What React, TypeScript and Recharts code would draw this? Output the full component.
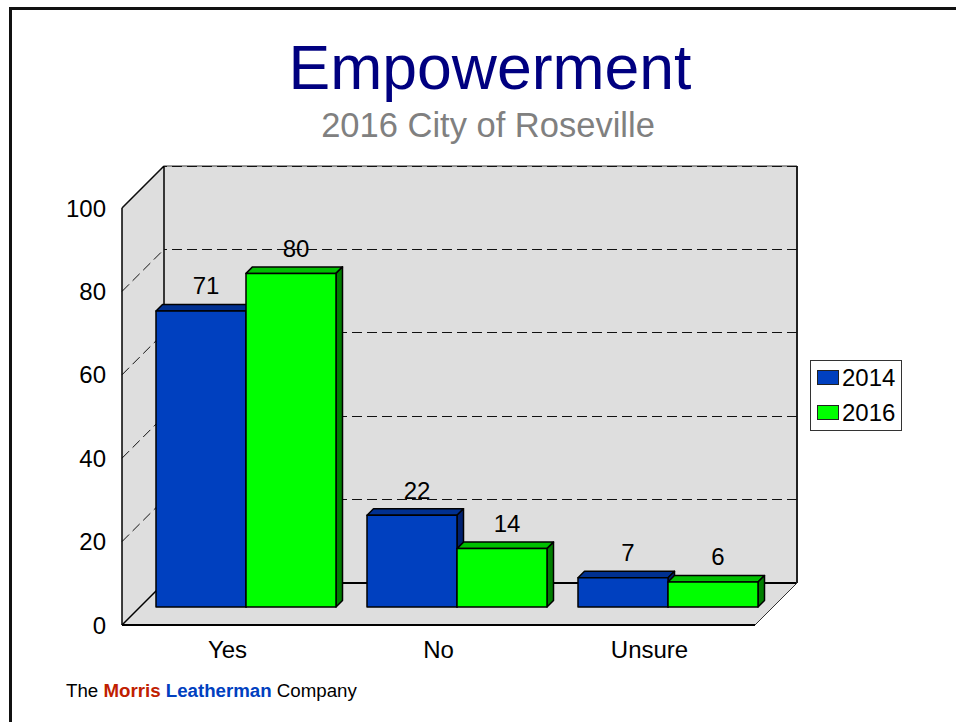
import React from 'react';
import { BarChart, Bar, XAxis, YAxis, ReferenceArea, ReferenceLine, LabelList, Legend } from 'recharts';

const categories = ['Yes', 'No', 'Unsure'];
const values2014 = [71, 22, 7];
const values2016 = [80, 14, 6];
const yTicks = [0, 20, 40, 60, 80, 100];

const rows = categories.map((name, i) => ({ name, y2014: values2014[i], y2016: values2016[i] }));

const FONT = '"Liberation Sans", Arial, sans-serif';
const WALL = '#DEDEDE';
// how far the back wall sits behind the front axes
const WALL_DEPTH = 42;
// bars stand part way back on the floor
const BAR_SHIFT = 18;
const BAR_DEPTH = 6.5;

const BLUE = { front: '#0040BF', top: '#003090', side: '#002070' };
const GREEN = { front: '#00FF00', top: '#00BF00', side: '#007F00' };

// back wall, side wall and floor, sized from the area the y axis gives us
const Walls = ({ x, y, width, height }: any) => {
  const d = WALL_DEPTH;
  const r = x + width;
  const b = y + height;
  return (
    <g>
      <path d={`M${x} ${y}L${x + d} ${y - d}L${x + d} ${b - d}L${x} ${b}Z`} fill={WALL} stroke="none" />
      <path d={`M${x + d} ${y - d}L${r + d} ${y - d}L${r + d} ${b - d}L${x + d} ${b - d}Z`} fill={WALL} stroke="none" />
      <path d={`M${x} ${b}L${x + d} ${b - d}L${r + d} ${b - d}L${r} ${b}Z`} fill={WALL} stroke="none" />
      <path d={`M${x} ${y}L${x + d} ${y - d}M${x + d} ${y - d}L${x + d} ${b - d}M${x} ${b}L${x + d} ${b - d}`} stroke="#000" strokeWidth={1.5} fill="none" />
      <path d={`M${x + d} ${b - d}L${r + d} ${b - d}`} stroke="#000" strokeWidth={2} fill="none" />
      <path d={`M${r + d} ${y - d}L${r + d} ${b - d}`} stroke="#222" strokeWidth={2} fill="none" />
      <path d={`M${x + d} ${y - d}L${r + d} ${y - d}`} stroke="#777" strokeWidth={1.5} fill="none" />
      <path d={`M${r} ${b}L${r + d} ${b - d}`} stroke="#333" strokeWidth={1} fill="none" />
    </g>
  );
};

const GridLine3D = ({ x1, y1, x2, y2 }: any) => {
  const d = WALL_DEPTH;
  return (
    <g fill="none" stroke="#111" strokeWidth={1} strokeDasharray="10 5">
      <line x1={x1} y1={y1} x2={x1 + d} y2={y1 - d} />
      <line x1={x1 + d} y1={y2 - d} x2={x2 + d} y2={y2 - d} strokeDashoffset={7} shapeRendering="crispEdges" />
    </g>
  );
};

const Bar3D = ({ x, y, width, height, colors }: any) => {
  const left = x + BAR_SHIFT;
  const top = y - BAR_SHIFT;
  const right = left + width;
  const bottom = top + height;
  const k = BAR_DEPTH;
  return (
    <g stroke="#000" strokeWidth={1.5} strokeLinejoin="round">
      <path d={`M${left} ${top}L${left + k} ${top - k}L${right + k} ${top - k}L${right} ${top}Z`} fill={colors.top} />
      <path d={`M${right} ${top}L${right + k} ${top - k}L${right + k} ${bottom - k}L${right} ${bottom}Z`} fill={colors.side} />
      <rect x={left} y={top} width={width} height={height} fill={colors.front} />
    </g>
  );
};

const BarValue = ({ x, y, width, value }: any) => (
  <text
    x={x + width / 2 + BAR_SHIFT + 5}
    y={y - BAR_SHIFT - 16.5}
    textAnchor="middle"
    fontFamily={FONT}
    fontSize={24}
    fill="#000"
  >
    {value}
  </text>
);

const LegendBox = ({ payload }: any) => (
  <div
    style={{
      width: 92,
      height: 71,
      boxSizing: 'border-box',
      border: '1.5px solid #333',
      background: '#fff',
      fontFamily: FONT,
      fontSize: 24,
      color: '#000',
      position: 'relative',
    }}
  >
    {(payload || []).map((item: any, i: number) => (
      <div key={item.value} style={{ position: 'absolute', left: 6, top: 2 + i * 35, height: 30, lineHeight: '30px', whiteSpace: 'nowrap' }}>
        <span
          style={{
            display: 'inline-block',
            boxSizing: 'border-box',
            width: 22,
            height: 15,
            marginRight: 3,
            background: item.color,
            border: '1px solid #222',
            verticalAlign: 1,
          }}
        />
        {item.value}
      </div>
    ))}
  </div>
);

export default function App() {
  return (
    <div style={{ position: 'absolute', left: 0, top: 0, width: 956, height: 722, overflow: 'hidden', background: '#fff' }}>
      <div style={{ position: 'absolute', left: 9, top: 7, width: 1000, height: 800, border: '3px solid #111' }} />
      <div style={{ position: 'absolute', left: 0, top: 0 }}>
        <BarChart
          width={956}
          height={722}
          data={rows}
          margin={{ top: 208, right: 201, bottom: 0, left: 0 }}
          barSize={90}
          barGap={0}
        >
          <text x={490} y={89} textAnchor="middle" fontFamily={FONT} fontSize={62.5} fill="#000080">Empowerment</text>
          <text x={488} y={137} textAnchor="middle" fontFamily={FONT} fontSize={34.5} fill="#808080">2016 City of Roseville</text>
          <text x={66} y={697} fontFamily={FONT} fontSize={18.7} fill="#000">
            The <tspan fontWeight="bold" fill="#C02000">Morris</tspan> <tspan fontWeight="bold" fill="#0040BF">Leatherman</tspan> Company
          </text>
          <ReferenceArea y1={0} y2={100} shape={<Walls />} ifOverflow="visible" zIndex={100} />
          {yTicks.slice(1).map((t) => (
            <ReferenceLine key={t} y={t} shape={<GridLine3D />} ifOverflow="visible" zIndex={200} />
          ))}
          <XAxis
            dataKey="name"
            height={97}
            tickLine={false}
            axisLine={{ stroke: '#000', strokeWidth: 2 }}
            tickMargin={10}
            tick={{ fontFamily: FONT, fontSize: 24, fill: '#000' }}
          />
          <YAxis
            width={122}
            domain={[0, 100]}
            ticks={yTicks}
            interval={0}
            tickLine={false}
            axisLine={{ stroke: '#000', strokeWidth: 1.5 }}
            tickMargin={10}
            tick={{ fontFamily: FONT, fontSize: 24, fill: '#000' }}
          />
          <Legend
            content={<LegendBox />}
            wrapperStyle={{ position: 'absolute', left: 810, top: 360, width: 0, height: 0, bottom: 'auto', right: 'auto', overflow: 'visible' }}
          />
          <Bar dataKey="y2014" name="2014" fill={BLUE.front} isAnimationActive={false} shape={<Bar3D colors={BLUE} />}>
            <LabelList dataKey="y2014" content={<BarValue />} />
          </Bar>
          <Bar dataKey="y2016" name="2016" fill={GREEN.front} isAnimationActive={false} shape={<Bar3D colors={GREEN} />}>
            <LabelList dataKey="y2016" content={<BarValue />} />
          </Bar>
        </BarChart>
      </div>
    </div>
  );
}
